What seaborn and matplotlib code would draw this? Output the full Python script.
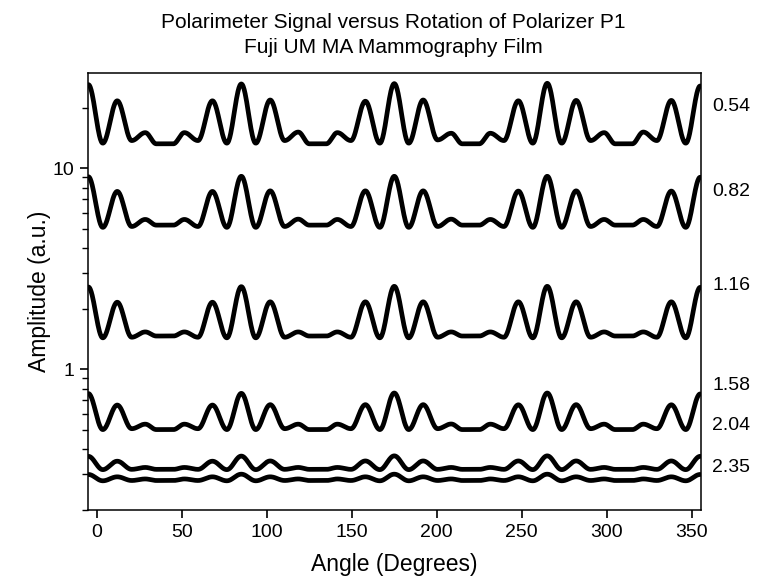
import numpy as np
import pandas as pd
import matplotlib
matplotlib.use("Agg")
import matplotlib.pyplot as plt
import seaborn as sns

# ---- data (angle in degrees, amplitude a.u.) ----
angles = [-5, 3.5, 12, 20.5, 28.5, 35, 45, 51.5, 59.5, 68, 76.5,
          85, 93.5, 102, 110.5, 118.5, 125, 135, 141.5, 149.5, 158, 166.5,
          175, 183.5, 192, 200.5, 208.5, 215, 225, 231.5, 239.5, 248, 256.5,
          265, 273.5, 282, 290.5, 298.5, 305, 315, 321.5, 329.5, 338, 346.5,
          355]

amp_054 = [26.0, 13.3, 21.6, 13.7, 15.0, 13.2, 13.2, 15.0, 13.7, 21.6, 13.3,
           26.2, 13.3, 21.8, 13.7, 15.1, 13.2, 13.2, 15.0, 13.7, 21.5, 13.3,
           26.3, 13.3, 21.8, 13.8, 14.9, 13.2, 13.2, 14.9, 13.7, 21.6, 13.3,
           26.4, 13.3, 21.7, 13.7, 15.0, 13.2, 13.2, 15.1, 13.7, 21.7, 13.3,
           25.6]
amp_082 = [9.05, 5.07, 7.65, 5.12, 5.55, 5.2, 5.2, 5.55, 5.12, 7.65, 5.07,
           9.1, 5.07, 7.7, 5.12, 5.57, 5.2, 5.2, 5.55, 5.12, 7.7, 5.07,
           9.1, 5.07, 7.7, 5.12, 5.57, 5.2, 5.2, 5.55, 5.12, 7.68, 5.07,
           9.1, 5.07, 7.7, 5.12, 5.55, 5.2, 5.2, 5.55, 5.12, 7.68, 5.07,
           9.0]
amp_116 = [2.56, 1.43, 2.15, 1.44, 1.53, 1.46, 1.46, 1.53, 1.44, 2.15, 1.43,
           2.57, 1.43, 2.16, 1.44, 1.53, 1.46, 1.46, 1.53, 1.44, 2.16, 1.43,
           2.58, 1.43, 2.16, 1.44, 1.53, 1.46, 1.46, 1.53, 1.44, 2.16, 1.43,
           2.58, 1.43, 2.16, 1.44, 1.53, 1.46, 1.46, 1.53, 1.44, 2.16, 1.43,
           2.55]
amp_158 = [0.755, 0.500, 0.662, 0.505, 0.532, 0.500, 0.500, 0.532, 0.505, 0.662, 0.500,
           0.757, 0.500, 0.665, 0.505, 0.532, 0.500, 0.500, 0.532, 0.505, 0.665, 0.500,
           0.760, 0.500, 0.665, 0.505, 0.533, 0.500, 0.500, 0.532, 0.505, 0.664, 0.500,
           0.760, 0.500, 0.665, 0.505, 0.532, 0.500, 0.500, 0.532, 0.505, 0.664, 0.500,
           0.752]
amp_204 = [0.368, 0.316, 0.348, 0.317, 0.324, 0.317, 0.317, 0.324, 0.317, 0.348, 0.316,
           0.369, 0.316, 0.349, 0.317, 0.324, 0.317, 0.317, 0.324, 0.317, 0.349, 0.316,
           0.370, 0.316, 0.349, 0.317, 0.324, 0.317, 0.317, 0.324, 0.317, 0.349, 0.316,
           0.370, 0.316, 0.349, 0.317, 0.324, 0.317, 0.317, 0.324, 0.317, 0.349, 0.316,
           0.368]
amp_235 = [0.299, 0.278, 0.291, 0.279, 0.284, 0.279, 0.279, 0.284, 0.279, 0.291, 0.278,
           0.300, 0.278, 0.291, 0.279, 0.284, 0.279, 0.279, 0.284, 0.279, 0.291, 0.278,
           0.300, 0.278, 0.291, 0.279, 0.284, 0.279, 0.279, 0.284, 0.279, 0.291, 0.278,
           0.300, 0.278, 0.291, 0.279, 0.284, 0.279, 0.279, 0.284, 0.279, 0.291, 0.278,
           0.299]

series_labels = ["0.54", "0.82", "1.16", "1.58", "2.04", "2.35"]
series_values = [amp_054, amp_082, amp_116, amp_158, amp_204, amp_235]
x_ticks = [0, 50, 100, 150, 200, 250, 300, 350]

title_lines = ["Polarimeter Signal versus Rotation of Polarizer P1",
               "Fuji UM MA Mammography Film"]


def smooth_trace(xk, yk, n=30):
    """Smooth rendering through the read extrema (flat tangents at each point)."""
    xs, ys = [], []
    for i in range(len(xk) - 1):
        t = np.linspace(0.0, 1.0, n, endpoint=False)
        w = (1 - np.cos(np.pi * t)) / 2
        l0, l1 = np.log10(yk[i]), np.log10(yk[i + 1])
        xs.append(xk[i] + (xk[i + 1] - xk[i]) * t)
        ys.append(10 ** (l0 + (l1 - l0) * w))
    xs.append([xk[-1]])
    ys.append([yk[-1]])
    return np.concatenate(xs), np.concatenate(ys)


frames = []
for lab, vals in zip(series_labels, series_values):
    xs, ys = smooth_trace(angles, vals)
    frames.append(pd.DataFrame({"angle": xs, "amp": ys, "series": lab}))
df = pd.concat(frames, ignore_index=True)

sns.set_style("ticks")
plt.rcParams["font.family"] = ["Liberation Sans", "DejaVu Sans"]
plt.rcParams["text.color"] = "black"
plt.rcParams["axes.labelcolor"] = "black"

fig = plt.figure(figsize=(7.6, 5.86), dpi=100)
ax = fig.add_axes([0.1158, 0.1297, 0.8062, 0.7457])

sns.lineplot(data=df, x="angle", y="amp", units="series", estimator=None,
             sort=False, color="black", linewidth=3.4, ax=ax, legend=False)

ax.set_yscale("log")
ax.set_xlim(-5.2, 355.3)
ax.set_ylim(0.199, 29.7)
ax.set_xticks(x_ticks)
ax.set_xticklabels([str(v) for v in x_ticks])
ax.set_yticks([1, 10])
ax.set_yticklabels(["1", "10"])
ax.yaxis.set_minor_locator(matplotlib.ticker.LogLocator(base=10, subs=np.arange(2, 10)))
ax.yaxis.set_minor_formatter(matplotlib.ticker.NullFormatter())

for s in ax.spines.values():
    s.set_linewidth(1.1)
    s.set_color("black")
ax.tick_params(axis="both", which="major", direction="out", length=6, width=1.2,
               labelsize=14, colors="black", labelcolor="black", pad=4)
ax.tick_params(axis="y", which="minor", direction="out", length=4, width=1.0,
               colors="black")
ax.tick_params(top=False, right=False, which="both")

ax.set_xlabel("Angle (Degrees)", fontsize=16.5, labelpad=9, color="black")
ax.set_ylabel("Amplitude (a.u.)", fontsize=16.5, labelpad=1, color="black")

fig.text(0.518, 0.962, title_lines[0], ha="center", va="center", fontsize=15,
         color="black")
fig.text(0.518, 0.919, title_lines[1], ha="center", va="center", fontsize=15,
         color="black")

label_y = [107, 192, 285, 385, 425, 468]
for lab, yp in zip(series_labels, label_y):
    fig.text(0.937, 1 - yp / 586, lab, ha="left", va="center", fontsize=14,
             color="black")

fig.savefig("out.png", dpi=100)
